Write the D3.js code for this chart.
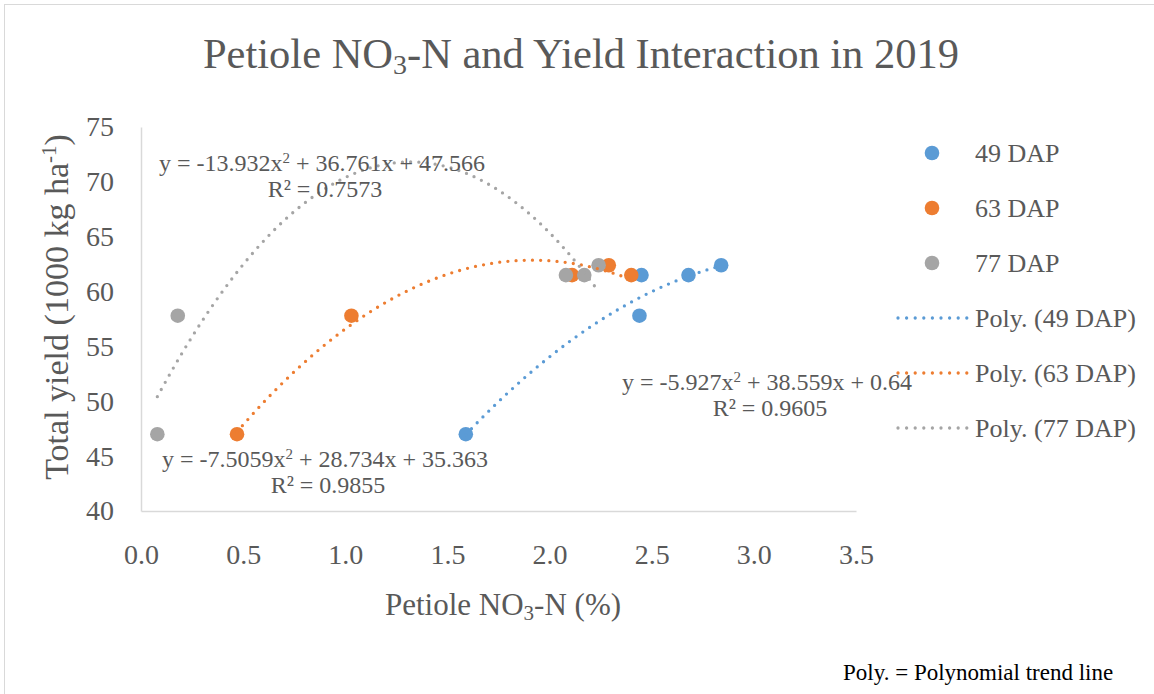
<!DOCTYPE html>
<html>
<head>
<meta charset="utf-8">
<script src="https://cdn.jsdelivr.net/npm/d3@7"></script>
<style>
  html, body { margin: 0; padding: 0; background: #fff; }
  svg { display: block; }
  text { font-family: "Liberation Serif", "Times New Roman", serif; fill: #595959; }
</style>
</head>
<body>
<svg id="chart" width="1154" height="694"></svg>
<script>
// ---- data ----
const seriesNames = ["49 DAP", "63 DAP", "77 DAP"];
const nitrate49 = [1.59, 2.44, 2.45, 2.68, 2.84];
const yield49   = [47.0, 57.8, 61.5, 61.5, 62.4];
const nitrate63 = [0.47, 1.03, 2.11, 2.40, 2.29];
const yield63   = [47.0, 57.8, 61.5, 61.5, 62.4];
const nitrate77 = [0.08, 0.18, 2.08, 2.17, 2.24];
const yield77   = [47.0, 57.8, 61.5, 61.5, 62.4];
// quadratic trend coefficients [a, b, c] for y = a x^2 + b x + c, and R^2
const coef49 = [-5.927, 38.559, 0.64];
const coef63 = [-7.5059, 28.734, 35.363];
const coef77 = [-13.932, 36.761, 47.566];
const rsq = ["0.9605", "0.9855", "0.7573"];
const xTicks = [0, 0.5, 1.0, 1.5, 2.0, 2.5, 3.0, 3.5];
const yTicks = [40, 45, 50, 55, 60, 65, 70, 75];

const colors = ["#5B9BD5", "#ED7D31", "#A5A5A5"];
const series = [
  { name: seriesNames[0], xs: nitrate49, ys: yield49, coef: coef49, r2: rsq[0], eq: "y = -5.927x|2| + 38.559x + 0.64", lx: 767, ly: 390 },
  { name: seriesNames[1], xs: nitrate63, ys: yield63, coef: coef63, r2: rsq[1], eq: "y = -7.5059x|2| + 28.734x + 35.363", lx: 325, ly: 467 },
  { name: seriesNames[2], xs: nitrate77, ys: yield77, coef: coef77, r2: rsq[2], eq: "y = -13.932x|2| + 36.761x + 47.566", lx: 322, ly: 171 }
];

const svg = d3.select("#chart");

// outer chart frame
svg.append("rect").attr("x", 4.5).attr("y", 4.5).attr("width", 1160).attr("height", 700)
  .attr("fill", "none").attr("stroke", "#D9D9D9").attr("stroke-width", 1);

const x = d3.scaleLinear().domain([0, 3.5]).range([141, 856]);
const y = d3.scaleLinear().domain([40, 75]).range([511, 127]);

// title
const title = svg.append("text").attr("x", 581).attr("y", 68).attr("text-anchor", "middle")
  .style("font-size", "42.5px");
title.append("tspan").text("Petiole NO");
title.append("tspan").text("3").attr("baseline-shift", "-22%").style("font-size", "28px");
title.append("tspan").text("-N and Yield Interaction in 2019");

// axes
const xAxis = svg.append("g").attr("transform", `translate(0,${y(40)})`)
  .call(d3.axisBottom(x).tickValues(xTicks).tickFormat(d3.format(".1f")).tickSize(0).tickPadding(33));
const yAxis = svg.append("g").attr("transform", `translate(${x(0)},0)`)
  .call(d3.axisLeft(y).tickValues(yTicks).tickFormat(d3.format("d")).tickSize(0).tickPadding(27));
[xAxis, yAxis].forEach(g => {
  g.attr("font-family", null);
  g.select(".domain").attr("stroke", "#D9D9D9").attr("stroke-width", 1.5);
  g.selectAll("text").style("font-size", "28px").attr("fill", "#595959");
});

// axis titles
const xt = svg.append("text").attr("x", 503).attr("y", 615).attr("text-anchor", "middle").style("font-size", "31px");
xt.append("tspan").text("Petiole NO");
xt.append("tspan").text("3").attr("baseline-shift", "-22%").style("font-size", "21px");
xt.append("tspan").text("-N (%)");

const yt = svg.append("text").attr("transform", "translate(68,307) rotate(-90)").attr("text-anchor", "middle").style("font-size", "34px");
yt.append("tspan").text("Total yield (1000 kg ha");
yt.append("tspan").text("-1").attr("baseline-shift", "super").style("font-size", "21px");
yt.append("tspan").text(")").attr("baseline-shift", "0");

// markers
series.forEach((s, i) => {
  svg.append("g").selectAll("circle").data(s.xs.map((v, k) => [v, s.ys[k]])).join("circle")
    .attr("cx", d => x(d[0])).attr("cy", d => y(d[1])).attr("r", 7.3)
    .attr("fill", colors[i]);
});

// polynomial trend lines
const line = d3.line().x(d => x(d[0])).y(d => y(d[1])).curve(d3.curveLinear);
series.forEach((s, i) => {
  const [lo, hi] = d3.extent(s.xs);
  const pts = d3.range(0, 201).map(k => {
    const xv = lo + (hi - lo) * k / 200;
    return [xv, s.coef[0] * xv * xv + s.coef[1] * xv + s.coef[2]];
  });
  svg.append("path").attr("d", line(pts)).attr("fill", "none").attr("stroke", colors[i])
    .attr("stroke-width", 3.3).attr("stroke-linecap", "round").attr("stroke-dasharray", "0 8.2");
});

// trend equations
series.forEach(s => {
  const t = svg.append("text").attr("x", s.lx).attr("y", s.ly).attr("text-anchor", "middle").style("font-size", "24px");
  s.eq.split("|").forEach((part, k) => {
    const sp = t.append("tspan").text(part);
    if (k === 1) sp.attr("baseline-shift", "super").style("font-size", "15px");
  });
  svg.append("text").attr("x", s.lx + 3).attr("y", s.ly + 26).attr("text-anchor", "middle")
    .style("font-size", "24px").text("R\u00B2 = " + s.r2);
});

// legend
const legend = svg.append("g");
series.forEach((s, i) => {
  legend.append("circle").attr("cx", 932).attr("cy", 153 + i * 55).attr("r", 7.3).attr("fill", colors[i]);
  legend.append("text").attr("x", 975).attr("y", 153 + i * 55 + 9).style("font-size", "26px").text(s.name);
});
series.forEach((s, i) => {
  const cy = 318 + i * 55;
  legend.append("line").attr("x1", 898).attr("x2", 968).attr("y1", cy).attr("y2", cy)
    .attr("stroke", colors[i]).attr("stroke-width", 3.3).attr("stroke-linecap", "round").attr("stroke-dasharray", "0 8.6");
  legend.append("text").attr("x", 975).attr("y", cy + 9).style("font-size", "26px").text("Poly. (" + s.name + ")");
});

// footnote
svg.append("text").attr("x", 843).attr("y", 680).style("font-size", "23px").style("fill", "#000")
  .text("Poly. = Polynomial trend line");
</script>
</body>
</html>
